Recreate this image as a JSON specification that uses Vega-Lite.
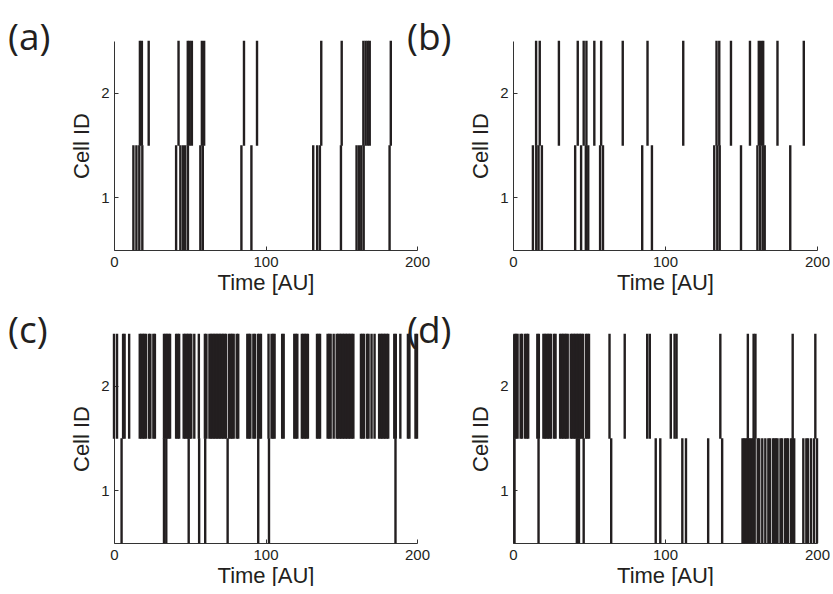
{
  "$schema": "https://vega.github.io/schema/vega-lite/v6.json",
  "background": "white",
  "padding": {"left": 8, "top": 19, "right": 0, "bottom": 0},
  "columns": 2,
  "spacing": {"column": 96, "row": 84},
  "bounds": "flush",
  "config": {
    "view": {"stroke": null},
    "axis": {
      "domainColor": "#333333", "domainWidth": 1,
      "tickColor": "#333333", "tickSize": -4, "tickWidth": 1,
      "labelFont": "Liberation Sans", "labelFontSize": 15, "labelColor": "#231f20", "labelFlush": false,
      "titleFont": "Liberation Sans", "titleFontSize": 22, "titleFontWeight": "normal", "titleColor": "#231f20",
      "grid": false
    },
    "axisX": {"titlePadding": 3, "labelPadding": 8},
    "axisY": {"titlePadding": 7, "labelPadding": 9, "labelAngle": 0},
    "title": {"anchor": "start", "frame": "group", "font": "Open Sans", "fontSize": 37, "fontWeight": "normal", "color": "#231f20", "offset": 0, "dx": -106, "dy": 21}
  },
  "datasets": {
    "a": [
      {"cell": 2, "t": 17.1}, {"cell": 2, "t": 18.4}, {"cell": 2, "t": 22.9}, {"cell": 2, "t": 42.6}, {"cell": 2, "t": 48.7}, {"cell": 2, "t": 50}, {"cell": 2, "t": 51.4}, {"cell": 2, "t": 58}, {"cell": 2, "t": 59.5}, {"cell": 2, "t": 85.8}, {"cell": 2, "t": 94.4}, {"cell": 2, "t": 136.8}, {"cell": 2, "t": 150.3}, {"cell": 2, "t": 164.6}, {"cell": 2, "t": 166.1}, {"cell": 2, "t": 167.5}, {"cell": 2, "t": 168.8}, {"cell": 2, "t": 182.7},
      {"cell": 1, "t": 12.8}, {"cell": 1, "t": 14.8}, {"cell": 1, "t": 16.7}, {"cell": 1, "t": 18.7}, {"cell": 1, "t": 41}, {"cell": 1, "t": 43.8}, {"cell": 1, "t": 45.5}, {"cell": 1, "t": 47}, {"cell": 1, "t": 48.8}, {"cell": 1, "t": 57}, {"cell": 1, "t": 58.6}, {"cell": 1, "t": 84.1}, {"cell": 1, "t": 90.7}, {"cell": 1, "t": 131.5}, {"cell": 1, "t": 134.1}, {"cell": 1, "t": 135.9}, {"cell": 1, "t": 149.8}, {"cell": 1, "t": 160.1}, {"cell": 1, "t": 161.7}, {"cell": 1, "t": 163.2}, {"cell": 1, "t": 164.8}, {"cell": 1, "t": 181.9}
    ],
    "b": [
      {"cell": 2, "t": 15.2}, {"cell": 2, "t": 17.6}, {"cell": 2, "t": 30.2}, {"cell": 2, "t": 42.6}, {"cell": 2, "t": 46.5}, {"cell": 2, "t": 48.3}, {"cell": 2, "t": 53.5}, {"cell": 2, "t": 58}, {"cell": 2, "t": 72.2}, {"cell": 2, "t": 88.5}, {"cell": 2, "t": 112}, {"cell": 2, "t": 133.9}, {"cell": 2, "t": 135.7}, {"cell": 2, "t": 143.4}, {"cell": 2, "t": 155.9}, {"cell": 2, "t": 161.7}, {"cell": 2, "t": 163.2}, {"cell": 2, "t": 164.6}, {"cell": 2, "t": 174}, {"cell": 2, "t": 191.3},
      {"cell": 1, "t": 13.1}, {"cell": 1, "t": 15.3}, {"cell": 1, "t": 16.8}, {"cell": 1, "t": 19}, {"cell": 1, "t": 40.9}, {"cell": 1, "t": 44.8}, {"cell": 1, "t": 47.9}, {"cell": 1, "t": 49.5}, {"cell": 1, "t": 57.3}, {"cell": 1, "t": 59.2}, {"cell": 1, "t": 85}, {"cell": 1, "t": 91.4}, {"cell": 1, "t": 132.4}, {"cell": 1, "t": 134.4}, {"cell": 1, "t": 136}, {"cell": 1, "t": 150}, {"cell": 1, "t": 160.8}, {"cell": 1, "t": 162.6}, {"cell": 1, "t": 164.3}, {"cell": 1, "t": 165.6}, {"cell": 1, "t": 182.4}
    ],
    "c": [
      {"cell": 2, "t": 0}, {"cell": 2, "t": 2}, {"cell": 2, "t": 6}, {"cell": 2, "t": 7}, {"cell": 2, "t": 10}, {"cell": 2, "t": 17}, {"cell": 2, "t": 18}, {"cell": 2, "t": 19}, {"cell": 2, "t": 20}, {"cell": 2, "t": 21}, {"cell": 2, "t": 23}, {"cell": 2, "t": 24}, {"cell": 2, "t": 26}, {"cell": 2, "t": 27}, {"cell": 2, "t": 33}, {"cell": 2, "t": 34}, {"cell": 2, "t": 35}, {"cell": 2, "t": 36}, {"cell": 2, "t": 37}, {"cell": 2, "t": 41}, {"cell": 2, "t": 42}, {"cell": 2, "t": 43}, {"cell": 2, "t": 46}, {"cell": 2, "t": 47}, {"cell": 2, "t": 48}, {"cell": 2, "t": 49}, {"cell": 2, "t": 50}, {"cell": 2, "t": 51}, {"cell": 2, "t": 53}, {"cell": 2, "t": 56}, {"cell": 2, "t": 60}, {"cell": 2, "t": 61}, {"cell": 2, "t": 63}, {"cell": 2, "t": 64}, {"cell": 2, "t": 65}, {"cell": 2, "t": 66}, {"cell": 2, "t": 67}, {"cell": 2, "t": 68}, {"cell": 2, "t": 69}, {"cell": 2, "t": 70}, {"cell": 2, "t": 71}, {"cell": 2, "t": 72}, {"cell": 2, "t": 73}, {"cell": 2, "t": 74}, {"cell": 2, "t": 76}, {"cell": 2, "t": 77}, {"cell": 2, "t": 78}, {"cell": 2, "t": 79}, {"cell": 2, "t": 81}, {"cell": 2, "t": 82}, {"cell": 2, "t": 88}, {"cell": 2, "t": 89}, {"cell": 2, "t": 90}, {"cell": 2, "t": 92}, {"cell": 2, "t": 93}, {"cell": 2, "t": 95}, {"cell": 2, "t": 96}, {"cell": 2, "t": 97}, {"cell": 2, "t": 102}, {"cell": 2, "t": 104}, {"cell": 2, "t": 105}, {"cell": 2, "t": 106}, {"cell": 2, "t": 111}, {"cell": 2, "t": 112}, {"cell": 2, "t": 119}, {"cell": 2, "t": 120}, {"cell": 2, "t": 121}, {"cell": 2, "t": 124}, {"cell": 2, "t": 125}, {"cell": 2, "t": 126}, {"cell": 2, "t": 127}, {"cell": 2, "t": 128}, {"cell": 2, "t": 134}, {"cell": 2, "t": 135}, {"cell": 2, "t": 136}, {"cell": 2, "t": 141}, {"cell": 2, "t": 142}, {"cell": 2, "t": 143}, {"cell": 2, "t": 145}, {"cell": 2, "t": 147}, {"cell": 2, "t": 148}, {"cell": 2, "t": 149}, {"cell": 2, "t": 150}, {"cell": 2, "t": 151}, {"cell": 2, "t": 152}, {"cell": 2, "t": 153}, {"cell": 2, "t": 154}, {"cell": 2, "t": 155}, {"cell": 2, "t": 156}, {"cell": 2, "t": 157}, {"cell": 2, "t": 158}, {"cell": 2, "t": 163}, {"cell": 2, "t": 164}, {"cell": 2, "t": 165}, {"cell": 2, "t": 167}, {"cell": 2, "t": 168}, {"cell": 2, "t": 170}, {"cell": 2, "t": 172}, {"cell": 2, "t": 175}, {"cell": 2, "t": 176}, {"cell": 2, "t": 177}, {"cell": 2, "t": 178}, {"cell": 2, "t": 179}, {"cell": 2, "t": 180}, {"cell": 2, "t": 181}, {"cell": 2, "t": 185}, {"cell": 2, "t": 186}, {"cell": 2, "t": 189}, {"cell": 2, "t": 194}, {"cell": 2, "t": 195}, {"cell": 2, "t": 199}, {"cell": 2, "t": 200},
      {"cell": 1, "t": 5}, {"cell": 1, "t": 33}, {"cell": 1, "t": 34.5}, {"cell": 1, "t": 49.3}, {"cell": 1, "t": 56.2}, {"cell": 1, "t": 60.2}, {"cell": 1, "t": 75}, {"cell": 1, "t": 95.2}, {"cell": 1, "t": 102.3}, {"cell": 1, "t": 185.8}
    ],
    "d": [
      {"cell": 2, "t": 1}, {"cell": 2, "t": 2}, {"cell": 2, "t": 3}, {"cell": 2, "t": 5}, {"cell": 2, "t": 6}, {"cell": 2, "t": 8}, {"cell": 2, "t": 9}, {"cell": 2, "t": 10}, {"cell": 2, "t": 16}, {"cell": 2, "t": 17}, {"cell": 2, "t": 20}, {"cell": 2, "t": 21}, {"cell": 2, "t": 22}, {"cell": 2, "t": 23}, {"cell": 2, "t": 24}, {"cell": 2, "t": 25}, {"cell": 2, "t": 27}, {"cell": 2, "t": 28}, {"cell": 2, "t": 31}, {"cell": 2, "t": 32}, {"cell": 2, "t": 33}, {"cell": 2, "t": 34}, {"cell": 2, "t": 35}, {"cell": 2, "t": 36}, {"cell": 2, "t": 38}, {"cell": 2, "t": 39}, {"cell": 2, "t": 40}, {"cell": 2, "t": 41}, {"cell": 2, "t": 42}, {"cell": 2, "t": 43}, {"cell": 2, "t": 44}, {"cell": 2, "t": 45}, {"cell": 2, "t": 46}, {"cell": 2, "t": 48}, {"cell": 2, "t": 49}, {"cell": 2, "t": 50}, {"cell": 2, "t": 63.5}, {"cell": 2, "t": 73.5}, {"cell": 2, "t": 88.3}, {"cell": 2, "t": 90}, {"cell": 2, "t": 103.8}, {"cell": 2, "t": 106.3}, {"cell": 2, "t": 107.6}, {"cell": 2, "t": 136.4}, {"cell": 2, "t": 154.5}, {"cell": 2, "t": 158.3}, {"cell": 2, "t": 159.5}, {"cell": 2, "t": 184}, {"cell": 2, "t": 198.9},
      {"cell": 1, "t": 1}, {"cell": 1, "t": 16.8}, {"cell": 1, "t": 42}, {"cell": 1, "t": 43.4}, {"cell": 1, "t": 46.5}, {"cell": 1, "t": 64.6}, {"cell": 1, "t": 93.9}, {"cell": 1, "t": 96.9}, {"cell": 1, "t": 111.4}, {"cell": 1, "t": 113.8}, {"cell": 1, "t": 128.4}, {"cell": 1, "t": 137.6}, {"cell": 1, "t": 151}, {"cell": 1, "t": 152}, {"cell": 1, "t": 153}, {"cell": 1, "t": 154}, {"cell": 1, "t": 155}, {"cell": 1, "t": 156}, {"cell": 1, "t": 157}, {"cell": 1, "t": 158}, {"cell": 1, "t": 159}, {"cell": 1, "t": 161}, {"cell": 1, "t": 162}, {"cell": 1, "t": 164}, {"cell": 1, "t": 166}, {"cell": 1, "t": 168}, {"cell": 1, "t": 169}, {"cell": 1, "t": 171}, {"cell": 1, "t": 172}, {"cell": 1, "t": 173}, {"cell": 1, "t": 174}, {"cell": 1, "t": 176}, {"cell": 1, "t": 177}, {"cell": 1, "t": 179}, {"cell": 1, "t": 180}, {"cell": 1, "t": 181}, {"cell": 1, "t": 183}, {"cell": 1, "t": 184}, {"cell": 1, "t": 185}, {"cell": 1, "t": 191}, {"cell": 1, "t": 193}, {"cell": 1, "t": 194}, {"cell": 1, "t": 196}, {"cell": 1, "t": 198}, {"cell": 1, "t": 200}
    ]
  },
  "concat": [
    {
      "width": 303, "height": 209,
      "title": {"text": "(a)"},
      "data": {"name": "a"},
      "mark": {"type": "tick", "orient": "vertical", "size": 105, "thickness": 2.4, "color": "#231f20", "opacity": 1},
      "encoding": {
        "x": {"field": "t", "type": "quantitative", "scale": {"domain": [0, 200], "nice": false, "zero": false}, "axis": {"values": [0, 100, 200], "title": "Time [AU]"}},
        "y": {"field": "cell", "type": "ordinal", "scale": {"type": "band", "domain": [2, 1], "paddingInner": 0, "paddingOuter": 0}, "axis": {"title": "Cell ID"}}
      }
    },
    {
      "width": 304, "height": 209,
      "title": {"text": "(b)"},
      "data": {"name": "b"},
      "mark": {"type": "tick", "orient": "vertical", "size": 105, "thickness": 2.4, "color": "#231f20", "opacity": 1},
      "encoding": {
        "x": {"field": "t", "type": "quantitative", "scale": {"domain": [0, 200], "nice": false, "zero": false}, "axis": {"values": [0, 100, 200], "title": "Time [AU]"}},
        "y": {"field": "cell", "type": "ordinal", "scale": {"type": "band", "domain": [2, 1], "paddingInner": 0, "paddingOuter": 0}, "axis": {"title": "Cell ID"}}
      }
    },
    {
      "width": 303, "height": 209,
      "title": {"text": "(c)"},
      "data": {"name": "c"},
      "mark": {"type": "tick", "orient": "vertical", "size": 105, "thickness": 2.4, "color": "#231f20", "opacity": 1},
      "encoding": {
        "x": {"field": "t", "type": "quantitative", "scale": {"domain": [0, 200], "nice": false, "zero": false}, "axis": {"values": [0, 100, 200], "title": "Time [AU]"}},
        "y": {"field": "cell", "type": "ordinal", "scale": {"type": "band", "domain": [2, 1], "paddingInner": 0, "paddingOuter": 0}, "axis": {"title": "Cell ID"}}
      }
    },
    {
      "width": 304, "height": 209,
      "title": {"text": "(d)"},
      "data": {"name": "d"},
      "mark": {"type": "tick", "orient": "vertical", "size": 105, "thickness": 2.4, "color": "#231f20", "opacity": 1},
      "encoding": {
        "x": {"field": "t", "type": "quantitative", "scale": {"domain": [0, 200], "nice": false, "zero": false}, "axis": {"values": [0, 100, 200], "title": "Time [AU]"}},
        "y": {"field": "cell", "type": "ordinal", "scale": {"type": "band", "domain": [2, 1], "paddingInner": 0, "paddingOuter": 0}, "axis": {"title": "Cell ID"}}
      }
    }
  ]
}
